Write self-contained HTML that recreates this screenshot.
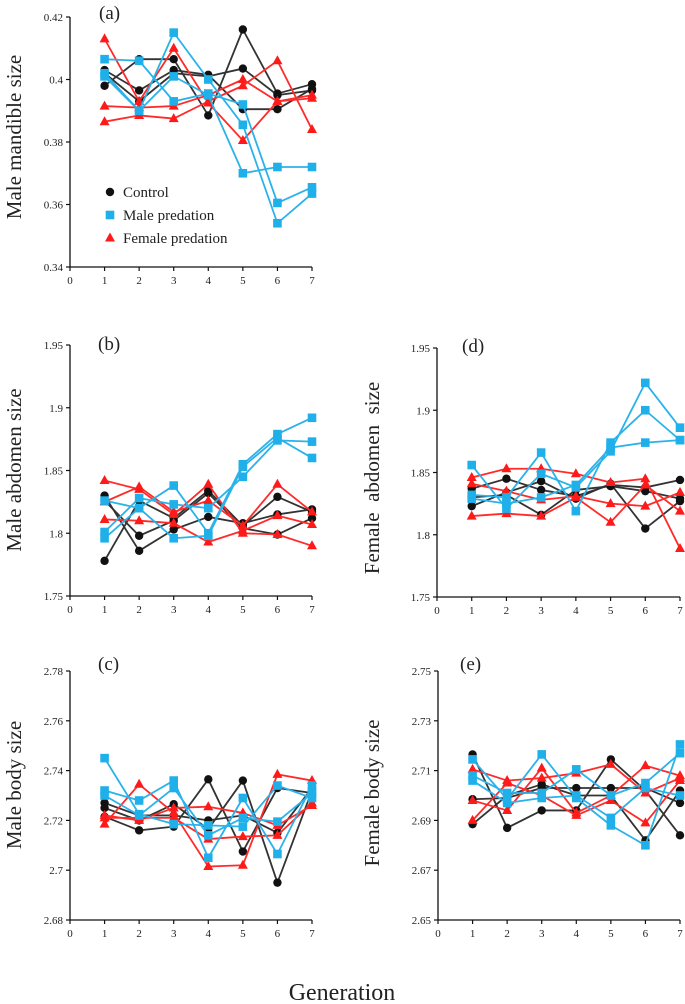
<!DOCTYPE html>
<html><head><meta charset="utf-8">
<style>
html,body{margin:0;padding:0;background:#fff;}
svg{display:block;font-family:"Liberation Serif",serif;}
</style></head>
<body>
<svg id="chart" width="685" height="1004" viewBox="0 0 685 1004" xmlns="http://www.w3.org/2000/svg">
<text x="342" y="1000" font-size="24" text-anchor="middle" fill="#222">Generation</text>
</svg>
<script>
const generations = [1,2,3,4,5,6,7];
const xTicks = [0,1,2,3,4,5,6,7];

const aTicks = [0.34,0.36,0.38,0.40,0.42];
const aTickLabels = ["0.34","0.36","0.38","0.4","0.42"];
const aControl = [[0.398,0.4065,0.4065,0.3885,0.416,0.3955,0.3985],[0.403,0.3965,0.403,0.4015,0.3905,0.3905,0.397],[0.402,0.393,0.402,0.401,0.4035,0.395,0.3965]];
const aMale = [[0.4065,0.406,0.393,0.3955,0.392,0.3605,0.3655],[0.402,0.390,0.415,0.400,0.3855,0.354,0.3635],[0.401,0.390,0.401,0.395,0.370,0.372,0.372]];
const aFemale = [[0.413,0.393,0.410,0.3925,0.3805,0.393,0.394],[0.3915,0.391,0.3915,0.395,0.400,0.393,0.395],[0.3865,0.3885,0.3875,0.393,0.398,0.406,0.384]];

const bTicks = [1.75,1.80,1.85,1.90,1.95];
const bTickLabels = ["1.75","1.8","1.85","1.9","1.95"];
const bControl = [[1.830,1.786,1.803,1.813,1.808,1.815,1.819],[1.778,1.826,1.812,1.834,1.806,1.829,1.817],[1.826,1.798,1.810,1.832,1.804,1.799,1.812]];
const bMale = [[1.826,1.820,1.838,1.800,1.855,1.879,1.892],[1.801,1.828,1.823,1.820,1.845,1.874,1.873],[1.796,1.820,1.796,1.798,1.853,1.876,1.860]];
const bFemale = [[1.842,1.835,1.815,1.839,1.800,1.799,1.790],[1.825,1.837,1.817,1.826,1.806,1.839,1.817],[1.811,1.810,1.808,1.793,1.802,1.814,1.807]];

const dTicks = [1.75,1.80,1.85,1.90,1.95];
const dTickLabels = ["1.75","1.8","1.85","1.9","1.95"];
const dControl = [[1.837,1.845,1.836,1.831,1.840,1.838,1.844],[1.823,1.834,1.843,1.829,1.841,1.805,1.827],[1.830,1.832,1.816,1.836,1.839,1.835,1.829]];
const dMale = [[1.856,1.821,1.849,1.838,1.867,1.922,1.886],[1.832,1.830,1.866,1.819,1.874,1.900,1.876],[1.829,1.825,1.830,1.840,1.870,1.874,1.876]];
const dFemale = [[1.846,1.853,1.853,1.849,1.842,1.845,1.789],[1.841,1.835,1.828,1.831,1.825,1.823,1.834],[1.815,1.817,1.815,1.830,1.810,1.840,1.819]];

const cTicks = [2.68,2.70,2.72,2.74,2.76,2.78];
const cTickLabels = ["2.68","2.7","2.72","2.74","2.76","2.78"];
const cControl = [[2.7215,2.716,2.7175,2.7365,2.7075,2.733,2.731],[2.725,2.720,2.7265,2.7165,2.736,2.695,2.732],[2.727,2.722,2.722,2.720,2.722,2.715,2.733]];
const cMale = [[2.745,2.7225,2.7185,2.718,2.7175,2.734,2.729],[2.732,2.728,2.736,2.705,2.729,2.7065,2.734],[2.730,2.722,2.733,2.714,2.721,2.7195,2.731]];
const cFemale = [[2.7185,2.7345,2.723,2.7015,2.702,2.7385,2.736],[2.722,2.720,2.725,2.7255,2.723,2.718,2.726],[2.721,2.721,2.721,2.7125,2.7135,2.714,2.727]];

const eTicks = [2.65,2.67,2.69,2.71,2.73,2.75];
const eTickLabels = ["2.65","2.67","2.69","2.71","2.73","2.75"];
const eControl = [[2.7165,2.687,2.694,2.694,2.7145,2.702,2.684],[2.6885,2.700,2.7045,2.700,2.700,2.682,2.702],[2.6985,2.699,2.703,2.703,2.703,2.703,2.697]];
const eMale = [[2.7145,2.6985,2.7165,2.699,2.688,2.680,2.7205],[2.708,2.701,2.701,2.7105,2.700,2.705,2.717],[2.706,2.697,2.699,2.700,2.691,2.703,2.700]];
const eFemale = [[2.7105,2.706,2.707,2.709,2.7125,2.701,2.707],[2.698,2.694,2.711,2.693,2.700,2.712,2.708],[2.690,2.705,2.700,2.692,2.698,2.689,2.706]];

const legendLabels = ["Control","Male predation","Female predation"];

const NS = "http://www.w3.org/2000/svg";
const svg = document.getElementById("chart");
const COL = {control:"#111", male:"#1fb0ea", female:"#ff1a1a"};
const LINE = {control:"#333", male:"#2ab2ea", female:"#ff2a2a"};

function mk(tag, attrs, parent){
  const el = document.createElementNS(NS, tag);
  for (const k in attrs) el.setAttribute(k, attrs[k]);
  (parent||svg).appendChild(el);
  return el;
}
function marker(kind, x, y, g){
  let el;
  if (kind==="control") el = mk("circle",{cx:x,cy:y,r:4.2,fill:COL.control},g);
  else if (kind==="male") el = mk("rect",{x:x-4.3,y:y-4.3,width:8.6,height:8.6,fill:COL.male},g);
  else el = mk("polygon",{points:`${x},${y-5.5} ${x+5},${y+3.5} ${x-5},${y+3.5}`,fill:COL.female},g);
  return el;
}

function panel(p){
  const g = mk("g",{});
  
  
  const ymin = p.ticks[0], ymax = p.ticks[p.ticks.length-1];
  const X = v => p.x0 + (v - 0) / 7 * (p.x1 - p.x0);
  const Y = v => p.yb + (v - ymin) / (ymax - ymin) * (p.yt - p.yb);
  const ya = mk("line",{x1:p.x0,y1:p.yt,x2:p.x0,y2:p.yb,stroke:"#111","stroke-width":1.3},g);
  
  
  const xa = mk("line",{x1:p.x0,y1:p.yb,x2:p.x1,y2:p.yb,stroke:"#111","stroke-width":1.3},g);
  
  
  p.ticks.forEach((t,i)=>{
    mk("line",{x1:p.x0-4,y1:Y(t),x2:p.x0,y2:Y(t),stroke:"#111","stroke-width":1.2},g);
    const tl = mk("text",{x:p.x0-7,y:Y(t)+4,"font-size":11,"text-anchor":"end",fill:"#222"},g);
    tl.textContent = p.labels[i];
    
    
  });
  xTicks.forEach(t=>{
    mk("line",{x1:X(t),y1:p.yb,x2:X(t),y2:p.yb+4,stroke:"#111","stroke-width":1.2},g);
    const tl = mk("text",{x:X(t),y:p.yb+17,"font-size":11,"text-anchor":"middle",fill:"#222"},g);
    tl.textContent = String(t);
    
    
  });
  const yt = mk("text",{x:p.tx,y:p.ty,"font-size":21,"text-anchor":"middle",fill:"#222",transform:`rotate(-90 ${p.tx} ${p.ty})`,style:"white-space:pre"},g);
  yt.textContent = p.title;
  
  
  const pl = mk("text",{x:p.lx,y:p.ly,"font-size":19,fill:"#222"},g);
  pl.textContent = "(" + p.id + ")";
  
  
  const groups = [["control",p.control],["female",p.female],["male",p.male]];
  groups.forEach(([kind, reps])=>{
    reps.forEach((vals, r)=>{
      const pts = vals.map((v,i)=>X(generations[i])+","+Y(v)).join(" ");
      const line = mk("polyline",{points:pts,fill:"none",stroke:LINE[kind],"stroke-width":1.8,"stroke-linejoin":"round"},g);
      
      
      vals.forEach((v,i)=>{
        const m = marker(kind, X(generations[i]), Y(v), g);
        
        
      });
    });
  });
}

panel({id:"a",x0:70,x1:312,yt:17,yb:267,ticks:aTicks,labels:aTickLabels,control:aControl,male:aMale,female:aFemale,title:"Male mandible size",tx:21,ty:137,lx:99,ly:19});
panel({id:"b",x0:70,x1:312,yt:345,yb:596,ticks:bTicks,labels:bTickLabels,control:bControl,male:bMale,female:bFemale,title:"Male abdomen size",tx:21,ty:470,lx:98,ly:350});
panel({id:"d",x0:437,x1:680,yt:348,yb:597,ticks:dTicks,labels:dTickLabels,control:dControl,male:dMale,female:dFemale,title:"Female  abdomen  size",tx:379,ty:478,lx:462,ly:352});
panel({id:"c",x0:70,x1:312,yt:671,yb:920,ticks:cTicks,labels:cTickLabels,control:cControl,male:cMale,female:cFemale,title:"Male body size",tx:21,ty:785,lx:98,ly:670});
panel({id:"e",x0:438,x1:680,yt:671,yb:920,ticks:eTicks,labels:eTickLabels,control:eControl,male:eMale,female:eFemale,title:"Female body size",tx:379,ty:793,lx:460,ly:670});

const lg = mk("g",{});


const kinds = ["control","male","female"];
const ly = [192,215,238];
kinds.forEach((k,i)=>{
  const m = marker(k, 110, ly[i], lg);
  
  
  const t = mk("text",{x:123,y:ly[i]+5,"font-size":15,fill:"#222"},lg);
  t.textContent = legendLabels[i];
  
  
});
</script>
</body></html>
